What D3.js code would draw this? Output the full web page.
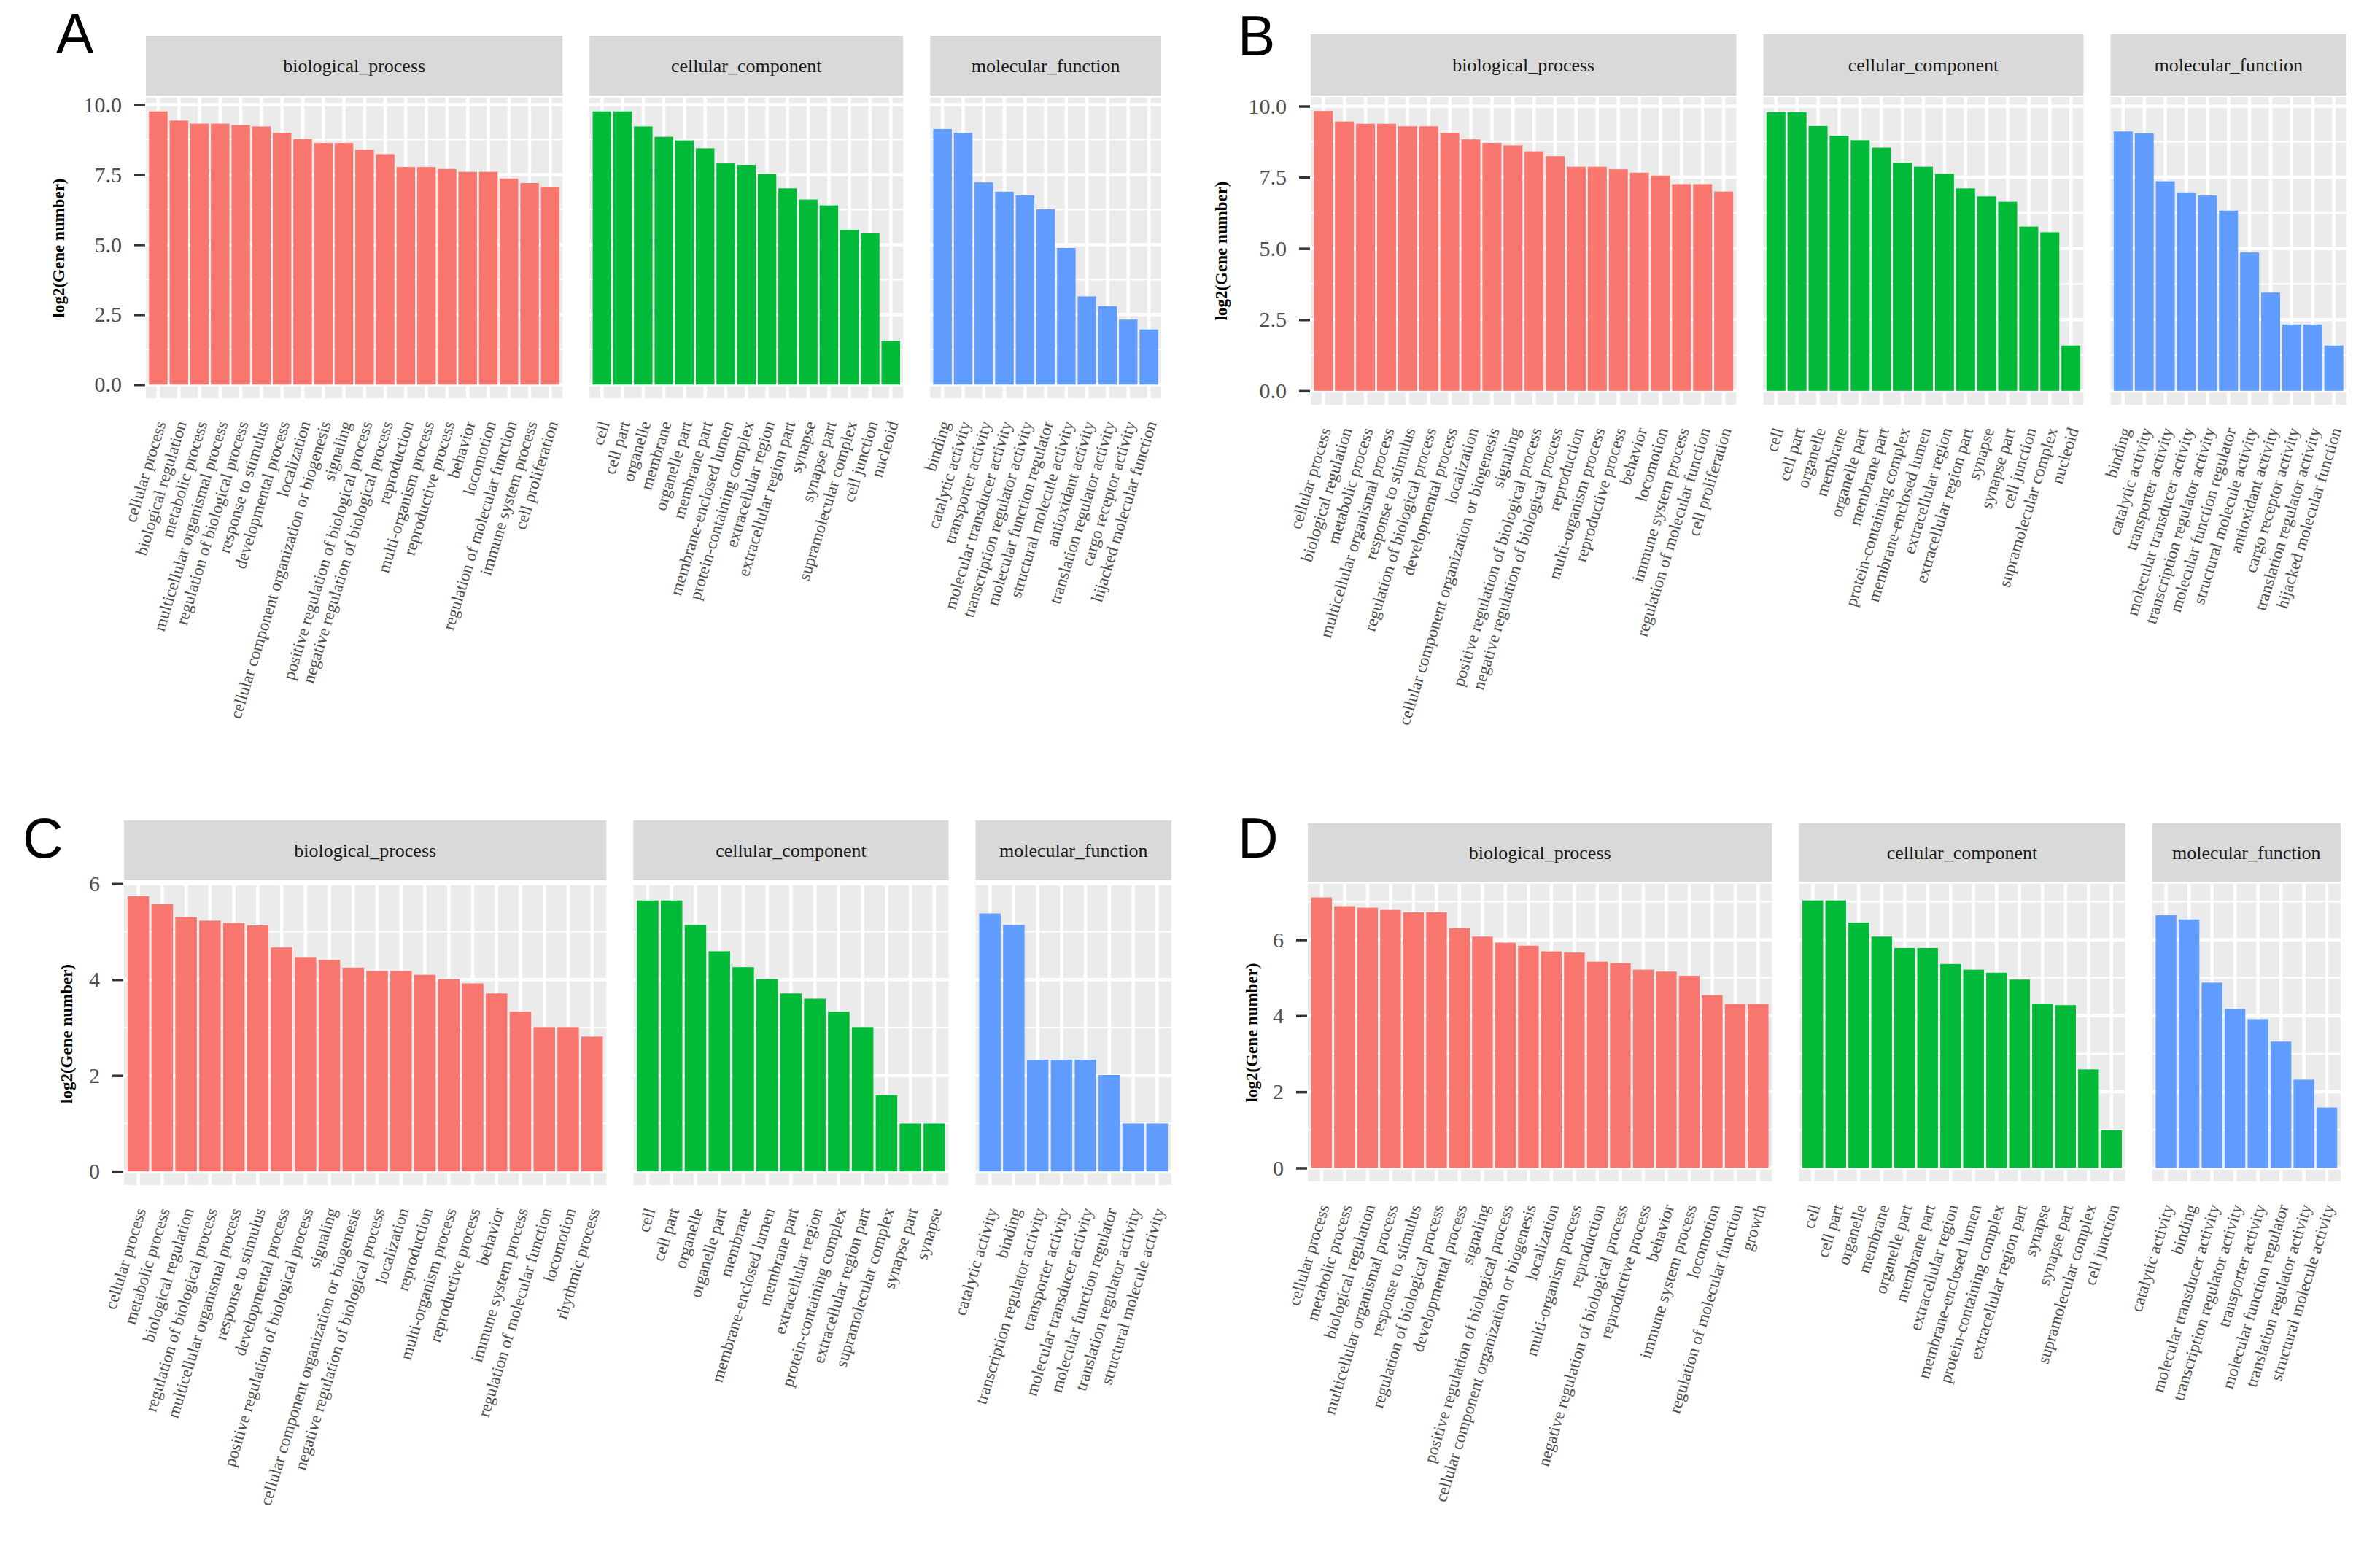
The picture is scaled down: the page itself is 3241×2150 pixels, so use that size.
<!DOCTYPE html>
<html lang="en">
<head>
<meta charset="UTF-8" />
<title>GO classification</title>
<script src="https://cdn.jsdelivr.net/npm/d3@7"></script>
<style>
  * { margin:0; padding:0; }
  body { background:#fff; }
  svg text { font-family:'Liberation Serif','Times New Roman',serif; }
  .letter { font-family:'Liberation Sans',Arial,sans-serif !important; font-size:77px; fill:#000; }
</style>
</head>
<body>
<svg id="fig" width="3241" height="2150"></svg>
<script>
  const FACETS = ['biological_process','cellular_component','molecular_function'];
  const FACET_COLORS = ['#F8766D','#00BA38','#619CFF'];

  // panel A
  const A_BP_TERMS = ['cellular process','biological regulation','metabolic process','multicellular organismal process','regulation of biological process','response to stimulus','developmental process','localization','cellular component organization or biogenesis','signaling','positive regulation of biological process','negative regulation of biological process','reproduction','multi-organism process','reproductive process','behavior','locomotion','regulation of molecular function','immune system process','cell proliferation'];
  const A_BP_VALUES = [9.76,9.43,9.32,9.32,9.27,9.22,8.99,8.77,8.63,8.63,8.39,8.23,7.77,7.77,7.70,7.60,7.60,7.36,7.20,7.06];
  const A_CC_TERMS = ['cell','cell part','organelle','membrane','organelle part','membrane part','membrane-enclosed lumen','protein-containing complex','extracellular region','extracellular region part','synapse','synapse part','supramolecular complex','cell junction','nucleoid'];
  const A_CC_VALUES = [9.76,9.76,9.22,8.85,8.72,8.44,7.90,7.85,7.52,7.01,6.61,6.40,5.53,5.40,1.56];
  const A_MF_TERMS = ['binding','catalytic activity','transporter activity','molecular transducer activity','transcription regulator activity','molecular function regulator','structural molecule activity','antioxidant activity','translation regulator activity','cargo receptor activity','hijacked molecular function'];
  const A_MF_VALUES = [9.13,8.99,7.22,6.89,6.76,6.26,4.88,3.15,2.80,2.32,1.97];

  // panel B
  const B_BP_TERMS = ['cellular process','biological regulation','metabolic process','multicellular organismal process','response to stimulus','regulation of biological process','developmental process','localization','cellular component organization or biogenesis','signaling','positive regulation of biological process','negative regulation of biological process','reproduction','multi-organism process','reproductive process','behavior','locomotion','immune system process','regulation of molecular function','cell proliferation'];
  const B_BP_VALUES = [9.83,9.46,9.38,9.38,9.29,9.29,9.06,8.83,8.71,8.62,8.41,8.24,7.87,7.87,7.78,7.66,7.56,7.26,7.26,7.00];
  const B_CC_TERMS = ['cell','cell part','organelle','membrane','organelle part','membrane part','protein-containing complex','membrane-enclosed lumen','extracellular region','extracellular region part','synapse','synapse part','cell junction','supramolecular complex','nucleoid'];
  const B_CC_VALUES = [9.79,9.79,9.30,8.96,8.80,8.54,8.01,7.87,7.62,7.11,6.83,6.64,5.77,5.57,1.59];
  const B_MF_TERMS = ['binding','catalytic activity','transporter activity','molecular transducer activity','transcription regulator activity','molecular function regulator','structural molecule activity','antioxidant activity','cargo receptor activity','translation regulator activity','hijacked molecular function'];
  const B_MF_VALUES = [9.11,9.04,7.36,6.97,6.86,6.33,4.86,3.45,2.33,2.33,1.59];

  // panel C
  const C_BP_TERMS = ['cellular process','metabolic process','biological regulation','regulation of biological process','multicellular organismal process','response to stimulus','developmental process','positive regulation of biological process','signaling','cellular component organization or biogenesis','negative regulation of biological process','localization','reproduction','multi-organism process','reproductive process','behavior','immune system process','regulation of molecular function','locomotion','rhythmic process'];
  const C_BP_VALUES = [5.74,5.57,5.30,5.23,5.18,5.13,4.67,4.47,4.41,4.25,4.18,4.18,4.10,4.01,3.92,3.71,3.33,3.01,3.01,2.81];
  const C_CC_TERMS = ['cell','cell part','organelle','organelle part','membrane','membrane-enclosed lumen','membrane part','extracellular region','protein-containing complex','extracellular region part','supramolecular complex','synapse part','synapse'];
  const C_CC_VALUES = [5.65,5.65,5.14,4.59,4.26,4.01,3.71,3.60,3.33,3.01,1.59,1.00,1.00];
  const C_MF_TERMS = ['catalytic activity','binding','transcription regulator activity','transporter activity','molecular transducer activity','molecular function regulator','translation regulator activity','structural molecule activity'];
  const C_MF_VALUES = [5.38,5.14,2.33,2.33,2.33,2.01,1.00,1.00];

  // panel D
  const D_BP_TERMS = ['cellular process','metabolic process','biological regulation','multicellular organismal process','response to stimulus','regulation of biological process','developmental process','signaling','positive regulation of biological process','cellular component organization or biogenesis','localization','multi-organism process','reproduction','negative regulation of biological process','reproductive process','behavior','immune system process','locomotion','regulation of molecular function','growth'];
  const D_BP_VALUES = [7.11,6.88,6.84,6.78,6.72,6.72,6.30,6.08,5.92,5.84,5.69,5.66,5.42,5.38,5.21,5.16,5.05,4.54,4.31,4.31];
  const D_CC_TERMS = ['cell','cell part','organelle','membrane','organelle part','membrane part','extracellular region','membrane-enclosed lumen','protein-containing complex','extracellular region part','synapse','synapse part','supramolecular complex','cell junction'];
  const D_CC_VALUES = [7.03,7.03,6.45,6.08,5.78,5.78,5.36,5.21,5.13,4.95,4.32,4.28,2.59,0.99];
  const D_MF_TERMS = ['catalytic activity','binding','molecular transducer activity','transcription regulator activity','transporter activity','molecular function regulator','translation regulator activity','structural molecule activity'];
  const D_MF_VALUES = [6.64,6.53,4.87,4.18,3.91,3.32,2.32,1.59];

  const AB_TICKS = [0,2.5,5,7.5,10];
  const AB_TICK_LABELS = ['0.0','2.5','5.0','7.5','10.0'];
  const CD_TICKS = [0,2,4,6];
  const CD_TICK_LABELS = ['0','2','4','6'];
  const Y_TITLE = 'log2(Gene number)';

  const svg = d3.select('#fig');
  const GAP = 37;        // space between facets
  const LABEL_ANGLE = -73;

  const panels = [
    {letter:'A', lx:77, ly:73, left:200, right:1592, stripTop:49, stripBot:131, top:134, bottom:546, titleX:80,
     terms:[A_BP_TERMS,A_CC_TERMS,A_MF_TERMS], values:[A_BP_VALUES,A_CC_VALUES,A_MF_VALUES], ticks:AB_TICKS, tickLabels:AB_TICK_LABELS},
    {letter:'B', lx:1697, ly:76, left:1797, right:3217, stripTop:47, stripBot:131, top:133, bottom:555, titleX:1674,
     terms:[B_BP_TERMS,B_CC_TERMS,B_MF_TERMS], values:[B_BP_VALUES,B_CC_VALUES,B_MF_VALUES], ticks:AB_TICKS, tickLabels:AB_TICK_LABELS},
    {letter:'C', lx:31, ly:1176, left:170, right:1606, stripTop:1125, stripBot:1207, top:1210, bottom:1625, titleX:91,
     terms:[C_BP_TERMS,C_CC_TERMS,C_MF_TERMS], values:[C_BP_VALUES,C_CC_VALUES,C_MF_VALUES], ticks:CD_TICKS, tickLabels:CD_TICK_LABELS},
    {letter:'D', lx:1697, ly:1176, left:1793, right:3209, stripTop:1129, stripBot:1209, top:1212, bottom:1620, titleX:1716,
     terms:[D_BP_TERMS,D_CC_TERMS,D_MF_TERMS], values:[D_BP_VALUES,D_CC_VALUES,D_MF_VALUES], ticks:CD_TICKS, tickLabels:CD_TICK_LABELS}
  ];

  function drawPanel(p) {
    const g = svg.append('g');
    const maxV = d3.max(p.values.flat());
    const y = d3.scaleLinear().domain([-0.05*maxV, 1.05*maxV]).range([p.bottom, p.top]);
    const majors = p.ticks;
    const step = majors[1]-majors[0];
    const minors = d3.range(majors[0]-step/2, y.domain()[1], step).filter(v => v > y.domain()[0] && v < y.domain()[1]);

    // facet widths follow number of categories (free space)
    const units = p.terms.map(t => t.length + 0.2);
    const perUnit = (p.right - p.left - GAP*(units.length-1)) / d3.sum(units);
    let x0 = p.left;

    p.terms.forEach((terms, fi) => {
      const w = units[fi]*perUnit;
      const fg = g.append('g').attr('transform', `translate(${x0},0)`);
      const x = d3.scaleBand().domain(terms).range([0, w]).paddingInner(0.1).paddingOuter(0.15);

      fg.append('rect').attr('x',0).attr('y',p.top).attr('width',w).attr('height',p.bottom-p.top).attr('fill','#EBEBEB');
      fg.selectAll('line.minor').data(minors).join('line').attr('class','minor')
        .attr('x1',0).attr('x2',w).attr('y1',d=>y(d)).attr('y2',d=>y(d))
        .attr('stroke','#fff').attr('stroke-width',2.2);
      fg.selectAll('line.major').data(majors).join('line').attr('class','major')
        .attr('x1',0).attr('x2',w).attr('y1',d=>y(d)).attr('y2',d=>y(d))
        .attr('stroke','#fff').attr('stroke-width',4.5);
      fg.selectAll('line.vgrid').data(terms).join('line').attr('class','vgrid')
        .attr('x1',d=>x(d)+x.bandwidth()/2).attr('x2',d=>x(d)+x.bandwidth()/2)
        .attr('y1',p.top).attr('y2',p.bottom)
        .attr('stroke','#fff').attr('stroke-width',4.5);

      fg.selectAll('rect.bar').data(terms).join('rect').attr('class','bar')
        .attr('x',d=>x(d)).attr('width',x.bandwidth())
        .attr('y',(d,i)=>y(p.values[fi][i])).attr('height',(d,i)=>y(0)-y(p.values[fi][i]))
        .attr('fill',FACET_COLORS[fi]);

      // strip
      fg.append('rect').attr('x',0).attr('y',p.stripTop).attr('width',w).attr('height',p.stripBot-p.stripTop).attr('fill','#D9D9D9');
      fg.append('text').attr('x',w/2).attr('y',(p.stripTop+p.stripBot)/2).attr('dy','0.35em')
        .attr('text-anchor','middle').attr('font-size',26).attr('fill','#1A1A1A').text(FACETS[fi]);

      // category labels
      const xa = fg.append('g').attr('transform',`translate(0,${p.bottom})`)
        .call(d3.axisBottom(x).tickSize(0));
      xa.select('.domain').remove();
      xa.selectAll('text')
        .attr('x',0).attr('y',0).attr('dy','0.35em')
        .attr('text-anchor','end')
        .attr('transform',`translate(3,32) rotate(${LABEL_ANGLE})`)
        .attr('font-size',23).attr('fill','#4D4D4D')
        .style('font-family',"'Liberation Serif',serif");

      x0 += w + GAP;
    });

    // y axis
    const ya = g.append('g').attr('transform',`translate(${p.left-1},0)`)
      .call(d3.axisLeft(y).tickValues(majors).tickFormat((d,i)=>p.tickLabels[i]).tickSize(15).tickPadding(17));
    ya.select('.domain').remove();
    ya.selectAll('.tick line').attr('stroke','#333333').attr('stroke-width',3.5);
    ya.selectAll('.tick text').attr('font-size',30).attr('fill','#4D4D4D')
      .style('font-family',"'Liberation Serif',serif");

    g.append('text')
      .attr('transform',`translate(${p.titleX},${(p.top+p.bottom)/2}) rotate(-90)`)
      .attr('text-anchor','middle').attr('dy','0.35em')
      .attr('font-size',23).attr('font-weight','bold').attr('fill','#000')
      .text(Y_TITLE);

    g.append('text').attr('class','letter').attr('x',p.lx).attr('y',p.ly).text(p.letter);
  }

  panels.forEach(drawPanel);
</script>
</body>
</html>
